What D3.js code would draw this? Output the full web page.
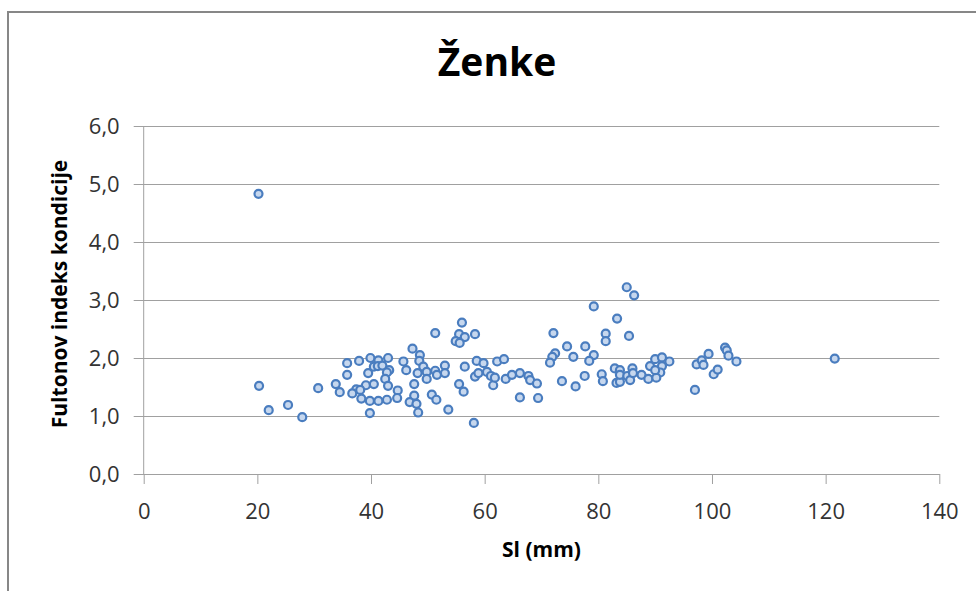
<!DOCTYPE html>
<html>
<head>
<meta charset="utf-8">
<script src="https://cdn.jsdelivr.net/npm/d3@7"></script>
<style>
  body { margin: 0; background: #fff; }
  svg { display: block; font-family: "Open Sans", sans-serif; }
</style>
</head>
<body>
<svg width="976" height="591"></svg>
<script>
// SL (mm) and Fulton's condition index
const slValues = [
  20.2, 20.3, 22.0, 25.4, 27.9, 30.7, 33.8, 34.5, 35.8, 35.8,
  37.9, 39.9, 41.3, 39.5, 40.5, 41.2, 39.1, 40.5, 37.4, 36.7,
  38.1, 38.3, 39.8, 41.3, 39.8, 43.0, 42.0, 43.2, 42.8, 42.5,
  43.0, 42.8, 44.7, 44.6, 45.7, 46.2, 47.3, 48.6, 48.5, 49.2,
  48.2, 49.8, 49.8, 51.3, 51.6, 53.0, 53.0, 47.6, 47.6, 46.8,
  48.0, 48.3, 51.3, 50.7, 51.5, 53.6, 56.0, 55.5, 56.5, 54.9,
  55.6, 58.3, 55.5, 56.3, 56.5, 58.1, 58.6, 59.8, 58.3, 58.9,
  60.4, 61.1, 61.5, 61.8, 62.2, 63.4, 63.7, 64.8, 66.2, 66.2,
  67.7, 68.0, 69.2, 69.4, 79.2, 83.3, 72.1, 81.3, 81.3, 85.4,
  74.5, 77.7, 72.4, 71.9, 71.5, 75.6, 79.2, 78.4, 73.6, 76.0,
  77.6, 80.6, 80.8, 82.9, 83.8, 83.2, 83.8, 83.8, 85.1, 85.6,
  86.0, 86.1, 87.6, 88.8, 89.1, 90.0, 91.2, 92.5, 91.2, 90.9,
  90.2, 90.0, 97.3, 97.0, 85.0, 86.3, 98.2, 98.5, 99.4, 100.3,
  101.0, 102.3, 102.6, 102.9, 104.3, 121.6
];
const fultonValues = [
  4.83, 1.52, 1.10, 1.19, 0.98, 1.48, 1.55, 1.41, 1.91, 1.71,
  1.95, 2.00, 1.96, 1.74, 1.85, 1.86, 1.53, 1.55, 1.46, 1.39,
  1.45, 1.30, 1.26, 1.26, 1.05, 2.00, 1.87, 1.79, 1.75, 1.64,
  1.52, 1.28, 1.44, 1.31, 1.94, 1.79, 2.16, 2.05, 1.95, 1.85,
  1.74, 1.76, 1.64, 1.78, 1.71, 1.87, 1.74, 1.55, 1.35, 1.24,
  1.21, 1.06, 2.43, 1.37, 1.28, 1.11, 2.61, 2.41, 2.36, 2.29,
  2.26, 2.41, 1.55, 1.42, 1.85, 0.88, 1.95, 1.91, 1.68, 1.74,
  1.76, 1.69, 1.53, 1.66, 1.94, 1.98, 1.64, 1.71, 1.74, 1.32,
  1.69, 1.62, 1.56, 1.31, 2.89, 2.68, 2.43, 2.42, 2.29, 2.38,
  2.20, 2.20, 2.08, 2.02, 1.92, 2.02, 2.05, 1.95, 1.60, 1.51,
  1.69, 1.72, 1.60, 1.82, 1.79, 1.57, 1.59, 1.71, 1.69, 1.62,
  1.82, 1.74, 1.71, 1.64, 1.86, 1.98, 2.01, 1.94, 1.86, 1.75,
  1.66, 1.79, 1.89, 1.45, 3.22, 3.08, 1.96, 1.88, 2.07, 1.72,
  1.80, 2.18, 2.13, 2.04, 1.94, 1.99
];
const xTicks = [0, 20, 40, 60, 80, 100, 120, 140];
const yTicks = [0, 1, 2, 3, 4, 5, 6];

const svg = d3.select("svg");
const plotLeft = 143.7, plotRight = 939.3, plotTop = 126, plotBottom = 474;
const gridColor = "#a0a0a0";

const x = d3.scaleLinear().domain([0, 140]).range([plotLeft, plotRight]);
const y = d3.scaleLinear().domain([0, 6]).range([plotBottom, plotTop]);

// chart frame
svg.append("path")
  .attr("d", "M8,600V12H990")
  .attr("fill", "none")
  .attr("stroke", "#878787")
  .attr("stroke-width", 2);

// title
svg.append("text")
  .attr("x", 497).attr("y", 76)
  .attr("text-anchor", "middle")
  .style("font-size", "39px").style("font-weight", "bold")
  .text("Ženke");

// y gridlines + labels
const yAxis = svg.append("g")
  .attr("transform", `translate(${plotLeft - 10},0)`)
  .call(d3.axisLeft(y).tickValues(yTicks)
    .tickSize(-(plotRight - plotLeft + 10)).tickPadding(14)
    .tickFormat(d => d3.format(".1f")(d).replace(".", ",")));
yAxis.select(".domain").remove();
yAxis.selectAll("line").attr("stroke", gridColor);
yAxis.selectAll("text").style("font-size", "22px").attr("fill", "#333")
  .attr("font-family", "Open Sans");

// y axis line
svg.append("line")
  .attr("x1", plotLeft).attr("x2", plotLeft)
  .attr("y1", plotTop).attr("y2", plotBottom)
  .attr("stroke", gridColor);

// x axis
const xAxis = svg.append("g")
  .attr("transform", `translate(0,${plotBottom})`)
  .call(d3.axisBottom(x).tickValues(xTicks)
    .tickSizeInner(10).tickSizeOuter(0).tickPadding(19));
xAxis.select(".domain").attr("stroke", gridColor);
xAxis.selectAll("line").attr("stroke", gridColor);
xAxis.selectAll("text").style("font-size", "22px").attr("fill", "#333")
  .attr("font-family", "Open Sans");

// axis titles
svg.append("text")
  .attr("x", (plotLeft + plotRight) / 2).attr("y", 557)
  .attr("text-anchor", "middle")
  .style("font-size", "21px").style("font-weight", "bold")
  .text("Sl (mm)");

svg.append("text")
  .attr("transform", "translate(67,294) rotate(-90)")
  .attr("text-anchor", "middle")
  .style("font-size", "21px").style("font-weight", "bold")
  .text("Fultonov indeks kondicije");

// points
const points = slValues.map((d, i) => ({ sl: d, k: fultonValues[i] }));
svg.append("g")
  .selectAll("circle")
  .data(points)
  .join("circle")
  .attr("cx", d => x(d.sl))
  .attr("cy", d => y(d.k))
  .attr("r", 4)
  .attr("fill", "#c6d7ee")
  .attr("stroke", "#4a7dbf")
  .attr("stroke-width", 2.2);
</script>
</body>
</html>
